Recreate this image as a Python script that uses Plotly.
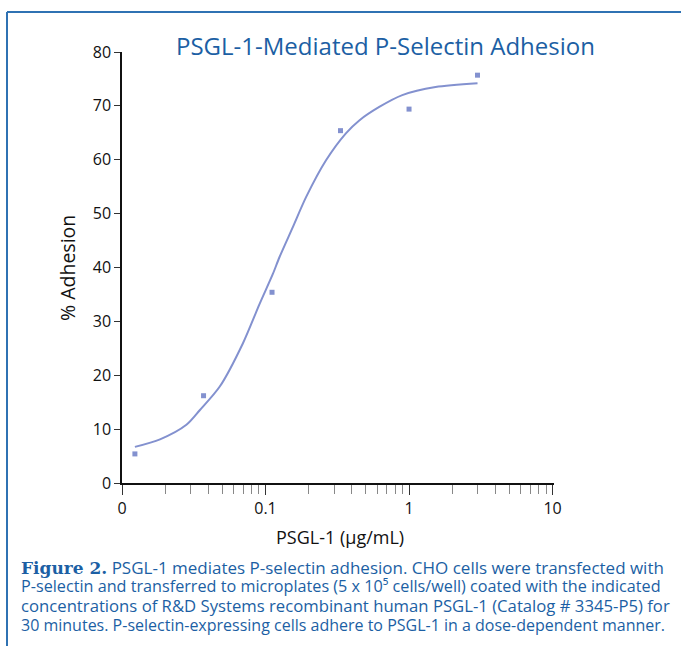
import plotly.graph_objects as go

# Data
conc = [0.0123, 0.037, 0.111, 0.333, 1.0, 3.0]
adhesion = [5.4, 16.2, 35.4, 65.4, 69.4, 75.7]

fit_x = [0.0123, 0.0184, 0.0281, 0.0348, 0.048, 0.0695, 0.0908, 0.1125, 0.125,
         0.155, 0.192, 0.264, 0.363, 0.45, 0.62, 0.897, 1.53, 3.0]
fit_y = [6.7, 8.1, 10.8, 13.5, 17.9, 25.9, 33.2, 38.8, 41.9,
         47.5, 53.1, 59.9, 64.9, 67.3, 69.8, 72.0, 73.5, 74.2]

x_tickvals = [0.01, 0.1, 1, 10]
x_ticktext = ["0", "0.1", "1", "10"]
x_minor = [0.02, 0.03, 0.04, 0.05, 0.06, 0.07, 0.08, 0.09,
           0.2, 0.3, 0.4, 0.5, 0.6, 0.7, 0.8, 0.9,
           2, 3, 4, 5, 6, 7, 8, 9]
y_tickvals = [0, 10, 20, 30, 40, 50, 60, 70, 80]

title_text = "PSGL-1-Mediated P-Selectin Adhesion"
x_title = "PSGL-1 (µg/mL)"
y_title = "% Adhesion"
caption_lines = [
    "<b>Figure 2.</b> PSGL-1 mediates P-selectin adhesion. CHO cells were transfected with",
    "P-selectin and transferred to microplates (5 x 10⁵ cells/well) coated with the indicated",
    "concentrations of R&D Systems recombinant human PSGL-1 (Catalog # 3345-P5) for",
    "30 minutes. P-selectin-expressing cells adhere to PSGL-1 in a dose-dependent manner.",
]

W, H = 681, 646
L, R, T, B = 122, 127, 52, 163
pw = W - L - R
ph = H - T - B


def px(xp):
    return (xp - L) / pw


def py(yp):
    return (H - B - yp) / ph


BLUE = "#1c5fa4"
LINE = "#8391cf"
FONT = "Open Sans, Noto Sans, sans-serif"

fig = go.Figure()
fig.add_trace(go.Scatter(x=fit_x, y=fit_y, mode="lines",
                         line=dict(color=LINE, width=2, shape="spline", smoothing=0.8),
                         hoverinfo="skip", showlegend=False))
fig.add_trace(go.Scatter(x=conc, y=adhesion, mode="markers",
                         marker=dict(symbol="square", size=5, color=LINE),
                         showlegend=False))

fig.update_xaxes(type="log", range=[-2, 1.01], showgrid=False, zeroline=False,
                 showline=True, linecolor="#111", linewidth=1.5,
                 tickmode="array", tickvals=x_tickvals, ticktext=x_ticktext,
                 ticks="outside", ticklen=10, tickwidth=1, tickcolor="#333",
                 tickfont=dict(family=FONT, size=16, color="#111"),
                 minor=dict(tickmode="array", tickvals=x_minor, ticks="outside",
                            ticklen=9, tickwidth=1, tickcolor="#888"))
fig.update_yaxes(range=[0, 80], showgrid=False, zeroline=False,
                 showline=True, linecolor="#111", linewidth=1.5,
                 tickmode="array", tickvals=y_tickvals,
                 ticks="outside", ticklen=6, tickwidth=1, tickcolor="#333",
                 tickfont=dict(family=FONT, size=16, color="#111"))

annotations = [
    dict(text=title_text, x=px(385), y=py(45), xref="paper", yref="paper",
         showarrow=False, xanchor="center", yanchor="middle",
         font=dict(family=FONT, size=24, color=BLUE)),
    dict(text=y_title, x=px(67), y=py(268), xref="paper", yref="paper",
         showarrow=False, xanchor="center", yanchor="middle", textangle=-90,
         font=dict(family=FONT, size=19.5, color="#111")),
    dict(text=x_title, x=px(340), y=py(537), xref="paper", yref="paper",
         showarrow=False, xanchor="center", yanchor="middle",
         font=dict(family=FONT, size=18, color="#111")),
]
line_y = [567, 586, 605, 625]
line_size = [17, 16.2, 16.7, 16.0]
for txt, yy, fs in zip(caption_lines, line_y, line_size):
    t = txt.replace("<b>Figure 2.</b>",
                    "<span style='font-family:DejaVu Serif, serif'><b>Figure 2.</b></span>")
    annotations.append(dict(text=t, x=px(19), y=py(yy), xref="paper", yref="paper",
                            showarrow=False, xanchor="left", yanchor="middle",
                            font=dict(family=FONT, size=fs, color=BLUE)))

shapes = [
    dict(type="line", xref="paper", yref="paper", x0=px(7), x1=px(7), y0=py(660), y1=py(12),
         line=dict(color="#2f72b3", width=2)),
    dict(type="line", xref="paper", yref="paper", x0=px(7), x1=px(700), y0=py(12), y1=py(12),
         line=dict(color="#2f72b3", width=2)),
]

fig.update_layout(width=W, height=H, margin=dict(l=L, r=R, t=T, b=B),
                  plot_bgcolor="white", paper_bgcolor="white",
                  annotations=annotations, shapes=shapes,
                  font=dict(family=FONT))

fig.write_html("out.html", config={"displayModeBar": False},
               post_script="document.body.style.margin='0';document.body.style.overflow='hidden';")
